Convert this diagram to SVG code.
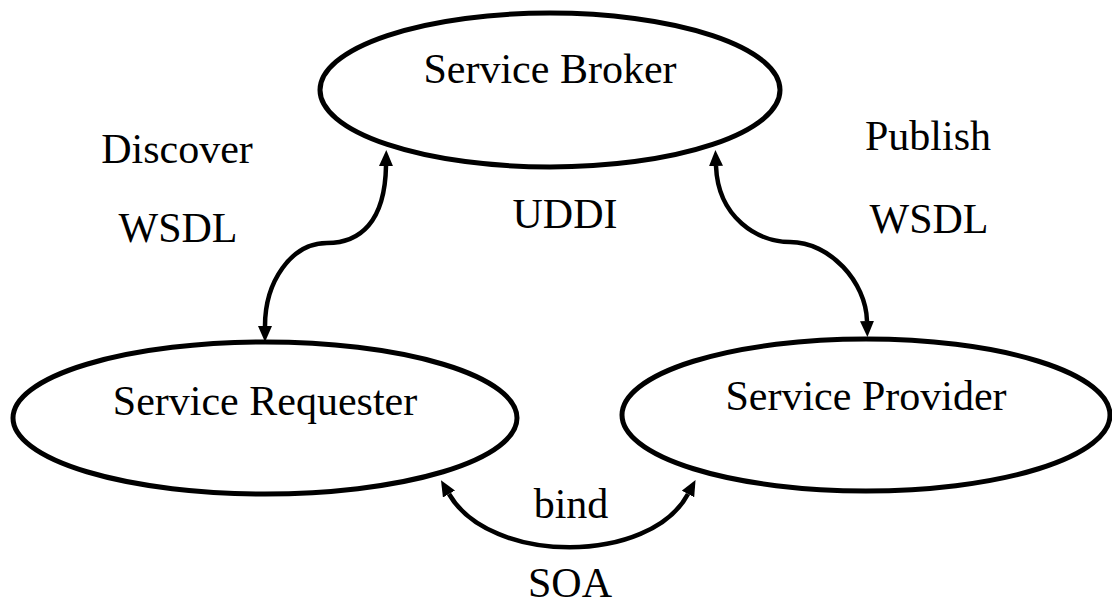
<svg xmlns="http://www.w3.org/2000/svg" width="1112" height="608" viewBox="0 0 1112 608">
<style>
.node ellipse{fill:#fff;stroke:#000;stroke-width:5}
text{font-family:"Liberation Serif","Times New Roman",serif;font-size:42px;fill:#000;text-anchor:middle}
.conn path{fill:none;stroke:#000;stroke-width:4.5}
</style>
<defs>
<marker id="ah" markerUnits="userSpaceOnUse" markerWidth="16" markerHeight="14" refX="0" refY="7" orient="auto-start-reverse" viewBox="0 0 16 14">
<path d="M0,0 L16,7 L0,14 Z" fill="#000"/>
</marker>
</defs>
<rect width="1112" height="608" fill="#fff"/>
<g id="broker" class="node">
<ellipse cx="550" cy="90" rx="230" ry="77"/>
<text x="550" y="83">Service Broker</text>
</g>
<g id="requester" class="node">
<ellipse cx="265" cy="418" rx="252" ry="76"/>
<text x="265" y="415">Service Requester</text>
</g>
<g id="provider" class="node">
<ellipse cx="866" cy="415" rx="244" ry="76"/>
<text x="866" y="410">Service Provider</text>
</g>
<g id="connectors" class="conn">
<path d="M386,166 C385,222 360,243 327,243 C291,243 265,282 265,326" marker-start="url(#ah)" marker-end="url(#ah)"/>
<path d="M716,166 C718,218 758,242 790,242 C830,242 866,282 867,321" marker-start="url(#ah)" marker-end="url(#ah)"/>
<path d="M449,494 C490,565 650,565 688,494" marker-start="url(#ah)" marker-end="url(#ah)"/>
</g>
<g id="labels">
<text x="177" y="163">Discover</text>
<text x="178" y="242">WSDL</text>
<text x="928" y="150">Publish</text>
<text x="929" y="233">WSDL</text>
<text x="565" y="228">UDDI</text>
<text x="571" y="518">bind</text>
<text x="570" y="597">SOA</text>
</g>
</svg>
